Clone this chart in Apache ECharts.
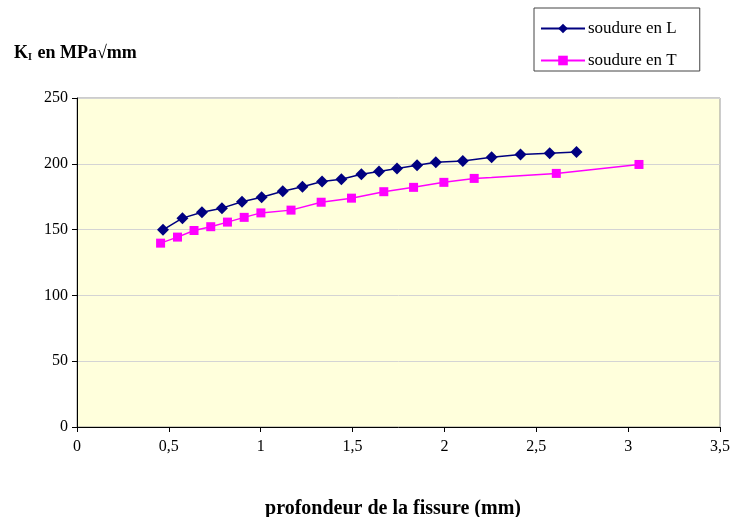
<!DOCTYPE html>
<html><head><meta charset="utf-8">
<script src="https://cdn.jsdelivr.net/npm/echarts@6/dist/echarts.min.js"></script>
<style>html,body{margin:0;padding:0;background:#fff}#c{width:736px;height:517px}</style>
</head><body><div id="c"></div>
<script>
const seriesNames = ['soudure en L', 'soudure en T'];
const depthL = [0.468,0.574,0.680,0.789,0.898,1.005,1.120,1.227,1.334,1.439,1.548,1.644,1.742,1.851,1.953,2.100,2.257,2.414,2.573,2.719];
const kL = [149.8,158.7,163.2,166.3,171.1,174.6,179.2,182.5,186.5,188.3,192.1,194.1,196.4,198.9,201.1,202.2,205.0,207.0,208.1,209.0];
const depthT = [0.455,0.547,0.637,0.728,0.819,0.910,1.001,1.165,1.329,1.494,1.670,1.832,1.997,2.162,2.256,2.609,3.059];
const kT = [139.7,144.3,149.3,152.2,155.7,159.3,162.7,164.8,170.8,173.9,178.8,182.1,185.9,188.9,189.5,192.7,199.5];
const hiddenMarkerT = [false,false,false,false,false,false,false,false,false,false,false,false,false,false,true,false,false];
const xTicks = {min: 0, max: 3.5, step: 0.5};
const yTicks = {min: 0, max: 250, step: 50};

const font = '"Liberation Serif", "Times New Roman", serif';
const chart = echarts.init(document.getElementById('c'));
const dataL = depthL.map((x, i) => [x, kL[i]]);
const dataT = depthT.map((x, i) => hiddenMarkerT[i] ? {value: [x, kT[i]], symbol: 'none'} : [x, kT[i]]);

chart.setOption({
  animation: false,
  backgroundColor: '#ffffff',
  textStyle: {fontFamily: font},
  title: [
    {text: '{k|K}{s|I}{k| en MPa√mm}', left: 9, top: 39,
     textStyle: {rich: {k: {fontFamily: font, fontSize: 18, fontWeight: 'bold', color: '#000'},
                        s: {fontFamily: font, fontSize: 10, fontWeight: 'bold', color: '#000', verticalAlign: 'bottom', padding: [7,1,0,0]}}}},
    {text: 'profondeur de la fissure (mm)', left: 388, top: 494, textAlign: 'center',
     textStyle: {fontFamily: font, fontSize: 20, fontWeight: 'bold', color: '#000'}}
  ],
  legend: {
    orient: 'vertical', left: 534, top: 8,
    data: seriesNames,
    borderColor: '#444', borderWidth: 1, borderRadius: 0,
    padding: [12, 23, 2, 6], itemGap: 15, itemWidth: 44, itemHeight: 12,
    textStyle: {fontFamily: font, fontSize: 17, color: '#000', padding: [0,0,0,-2]}
  },
  grid: {left: 77, right: 16, top: 98, bottom: 90, show: true, backgroundColor: '#FFFFDC', borderColor: '#999', borderWidth: 1},
  xAxis: {
    type: 'value', min: xTicks.min, max: xTicks.max, interval: xTicks.step,
    axisLine: {show: true, lineStyle: {color: '#000'}},
    axisTick: {show: true, length: 5, lineStyle: {color: '#000'}},
    splitLine: {show: false},
    axisLabel: {fontFamily: font, fontSize: 16, color: '#000', margin: 12,
      formatter: v => String(v).replace('.', ',')}
  },
  yAxis: {
    type: 'value', min: yTicks.min, max: yTicks.max, interval: yTicks.step,
    axisLine: {show: true, lineStyle: {color: '#000'}},
    axisTick: {show: true, length: 5, lineStyle: {color: '#000'}},
    splitLine: {show: true, lineStyle: {color: '#D4D4D4', width: 1}},
    axisLabel: {fontFamily: font, fontSize: 16, color: '#000', margin: 9}
  },
  series: [
    {name: seriesNames[0], type: 'line', data: dataL, symbol: 'diamond', symbolSize: 12,
     showAllSymbol: true,
     lineStyle: {color: '#000080', width: 1.5}, itemStyle: {color: '#000080'}},
    {name: seriesNames[1], type: 'line', data: dataT, symbol: 'rect', symbolSize: 9,
     showAllSymbol: true,
     lineStyle: {color: '#FF00FF', width: 1.5}, itemStyle: {color: '#FF00FF'}}
  ]
});
</script></body></html>
